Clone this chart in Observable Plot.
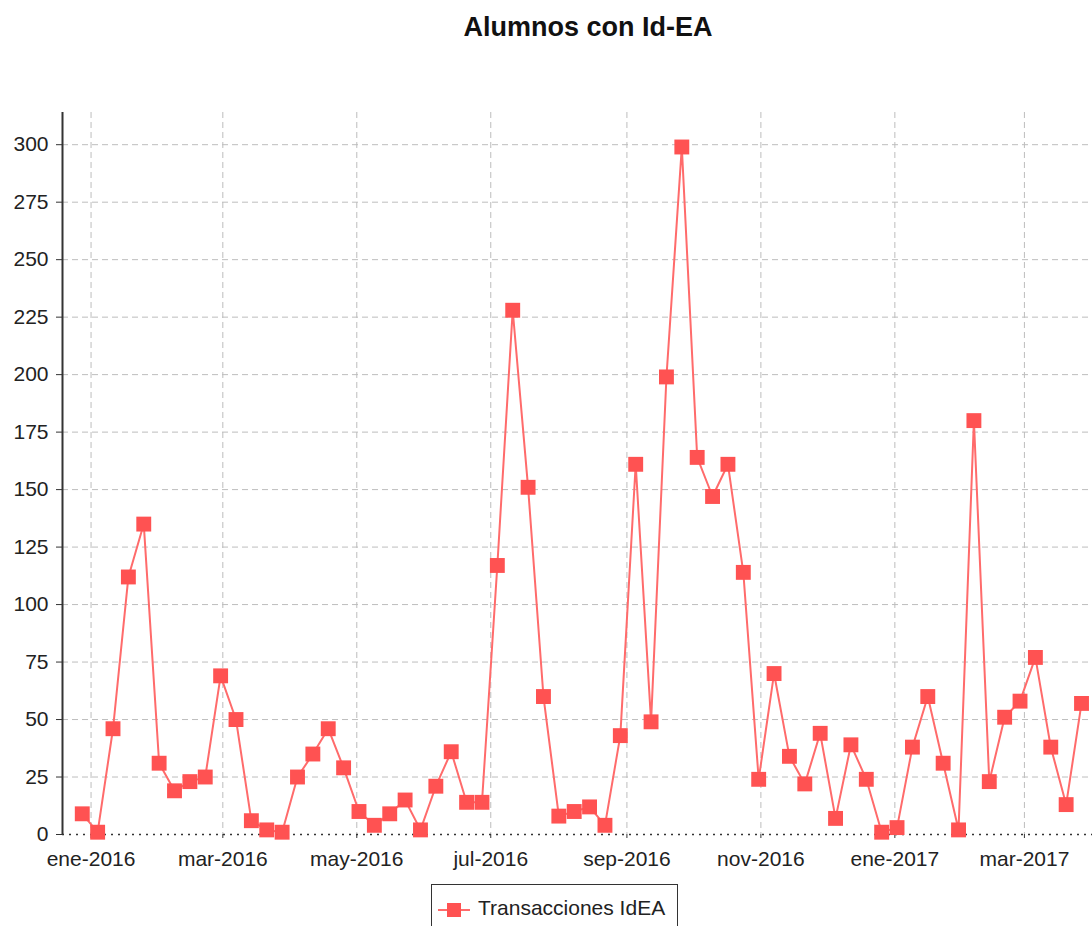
<!DOCTYPE html>
<html>
<head>
<meta charset="utf-8">
<script src="https://cdn.jsdelivr.net/npm/d3@7"></script>
<script src="https://cdn.jsdelivr.net/npm/@observablehq/plot@0.6"></script>
<style>
  html, body { margin: 0; padding: 0; background: #fff; overflow: hidden; }
  body { width: 1092px; height: 926px; position: relative; font-family: "Liberation Sans", Arial, Helvetica, sans-serif; }
  #title { position: absolute; left: 0; top: 10px; width: 1176px; text-align: center; font-weight: bold; font-size: 27px; color: #111; line-height: 34px; }
  #chart { position: absolute; left: 0; top: 80px; }
  #legend { position: absolute; left: 431px; top: 884px; width: 245px; height: 60px; border: 1.5px solid #333; background: #fff; }
  #legend svg { position: absolute; left: 5px; top: 15px; }
  #legend span { position: absolute; left: 46px; top: 11px; font-size: 21px; color: #222; white-space: nowrap; }
</style>
</head>
<body>
<div id="title">Alumnos con Id-EA</div>
<div id="chart"></div>
<div id="legend">
  <svg width="36" height="20"><line x1="1" y1="10" x2="33" y2="10" stroke="#ff6b6b" stroke-width="2"/><rect x="10" y="3" width="14" height="14" fill="#ff5252"/></svg>
  <span>Transacciones IdEA</span>
</div>
<script>
const weeks = [
  "2015-12-28","2016-01-04","2016-01-11","2016-01-18","2016-01-25","2016-02-01","2016-02-08","2016-02-15","2016-02-22","2016-02-29",
  "2016-03-07","2016-03-14","2016-03-21","2016-03-28","2016-04-04","2016-04-11","2016-04-18","2016-04-25","2016-05-02","2016-05-09",
  "2016-05-16","2016-05-23","2016-05-30","2016-06-06","2016-06-13","2016-06-20","2016-06-27","2016-07-04","2016-07-11","2016-07-18",
  "2016-07-25","2016-08-01","2016-08-08","2016-08-15","2016-08-22","2016-08-29","2016-09-05","2016-09-12","2016-09-19","2016-09-26",
  "2016-10-03","2016-10-10","2016-10-17","2016-10-24","2016-10-31","2016-11-07","2016-11-14","2016-11-21","2016-11-28","2016-12-05",
  "2016-12-12","2016-12-19","2016-12-26","2017-01-02","2017-01-09","2017-01-16","2017-01-23","2017-01-30","2017-02-06","2017-02-13",
  "2017-02-20","2017-02-27","2017-03-06","2017-03-13","2017-03-20","2017-03-27"
];
const transacciones = [
  9,1,46,112,135,31,19,23,25,69,
  50,6,2,1,25,35,46,29,10,4,
  9,15,2,21,36,14,14,117,228,151,
  60,8,10,12,4,43,161,49,199,299,
  164,147,161,114,24,70,34,22,44,7,
  39,24,1,3,38,60,31,2,180,23,
  51,58,77,38,13,57
];
const xTicks = ["2016-01-01","2016-03-01","2016-05-01","2016-07-01","2016-09-01","2016-11-01","2017-01-01","2017-03-01"];
const monthNames = ["ene","feb","mar","abr","may","jun","jul","ago","sep","oct","nov","dic"];
const yTicks = [0,25,50,75,100,125,150,175,200,225,250,275,300];
const xDomain = ["2015-12-19","2017-04-01"];
const yDomain = [0, 314];

const data = weeks.map((w, i) => ({date: new Date(w), value: transacciones[i]}));
const xTickDates = xTicks.map(d => new Date(d));
const fmt = d => monthNames[d.getUTCMonth()] + "-" + d.getUTCFullYear();

const chart = Plot.plot({
  width: 1092,
  height: 800,
  marginTop: 32,
  marginBottom: 46,
  marginLeft: 62,
  marginRight: 0,
  style: {fontSize: "21px", fontFamily: "'Liberation Sans', Arial, Helvetica, sans-serif", color: "#222", background: "transparent"},
  x: {type: "utc", domain: xDomain.map(d => new Date(d))},
  y: {domain: yDomain},
  marks: [
    Plot.gridX(xTickDates, {stroke: "#bdbdbd", strokeOpacity: 1, strokeDasharray: "6,4", strokeWidth: 1}),
    Plot.gridY(yTicks.filter(v => v > 0), {stroke: "#bdbdbd", strokeOpacity: 1, strokeDasharray: "6,4", strokeWidth: 1}),
    Plot.ruleY([0], {stroke: "#333", strokeDasharray: "2,5", strokeWidth: 1.5}),
    Plot.ruleX([new Date(xDomain[0])], {stroke: "#333", strokeWidth: 2}),
    Plot.axisY(yTicks, {tickSize: 6, tickPadding: 8, label: null, stroke: "#333"}),
    Plot.axisX(xTickDates, {tickSize: 4, tickPadding: 13, tickFormat: fmt, label: null, stroke: "#333"}),
    Plot.line(data, {x: "date", y: "value", stroke: "#ff6b6b", strokeWidth: 2}),
    Plot.dot(data, {x: "date", y: "value", symbol: "square", r: 8.4, fill: "#ff5252", stroke: "none"})
  ]
});
document.getElementById("chart").appendChild(chart);
</script>
</body>
</html>
